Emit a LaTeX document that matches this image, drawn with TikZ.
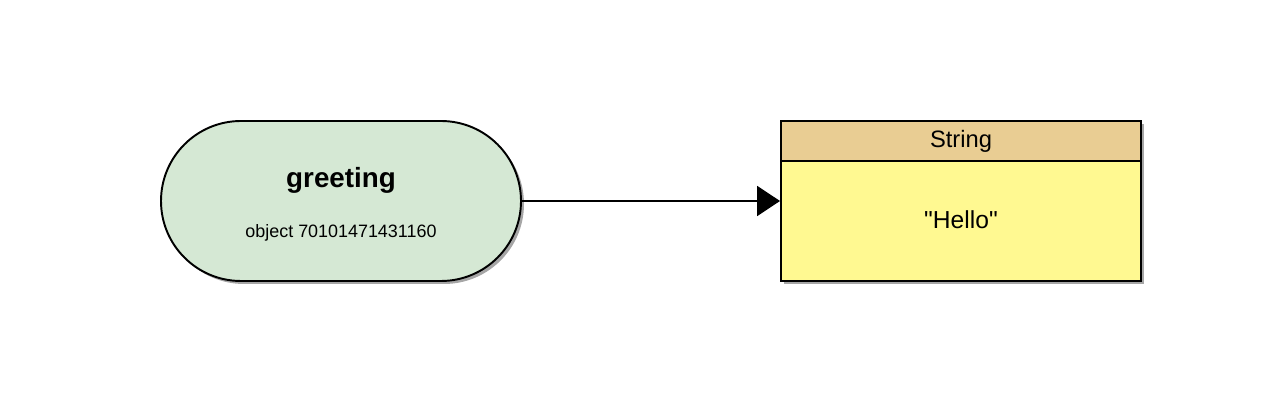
\documentclass[tikz,border=0pt]{standalone}
\usepackage{fontspec}
\setmainfont{Liberation Sans}
\usetikzlibrary{shapes.misc,arrows.meta,shadows}
\definecolor{refgreen}{HTML}{D5E8D4}
\definecolor{reftan}{HTML}{E9CD93}
\definecolor{refyellow}{HTML}{FFF991}
\begin{document}
\begin{tikzpicture}[
            shade/.style={drop shadow={shadow xshift=0.06cm, shadow yshift=-0.06cm, fill=black, opacity=0.35}},
            varbox/.style={rounded rectangle, draw, line width=1.1pt, fill=refgreen, shade, minimum width=7.2cm, minimum height=3.2cm, inner sep=0pt},
            headbox/.style={rectangle, draw, line width=1.1pt, fill=reftan, shade, minimum width=7.2cm, minimum height=0.8cm, inner sep=0pt, font=\fontsize{13.5}{15}\selectfont},
            bodybox/.style={rectangle, draw, line width=1.1pt, fill=refyellow, shade, minimum width=7.2cm, minimum height=2.4cm, inner sep=0pt},
            pointer/.style={line width=1.1pt, -{Triangle[length=0.46cm, width=0.6cm]}}
            ]
            \useasboundingbox (0,0) rectangle (25.6,8);

            \node[varbox] (var) at (6.82,3.98) {};
            \node[font=\fontsize{15.8}{18}\selectfont\bfseries] (name) at (6.82,4.40) {greeting};
            \node[font=\fontsize{10.2}{12}\selectfont] (id) at (6.82,3.34) {object 70101471431160};

            \node[headbox] (head) at (19.22,5.18) {String};
            \node[bodybox] (body) at (19.22,3.58) {};
            \node[font=\fontsize{14}{16}\selectfont] (val) at (19.22,3.6) {\textquotedbl Hello\textquotedbl};

            \draw[pointer] (var.east) -- (var.east -| body.west);
\end{tikzpicture}
\end{document}
